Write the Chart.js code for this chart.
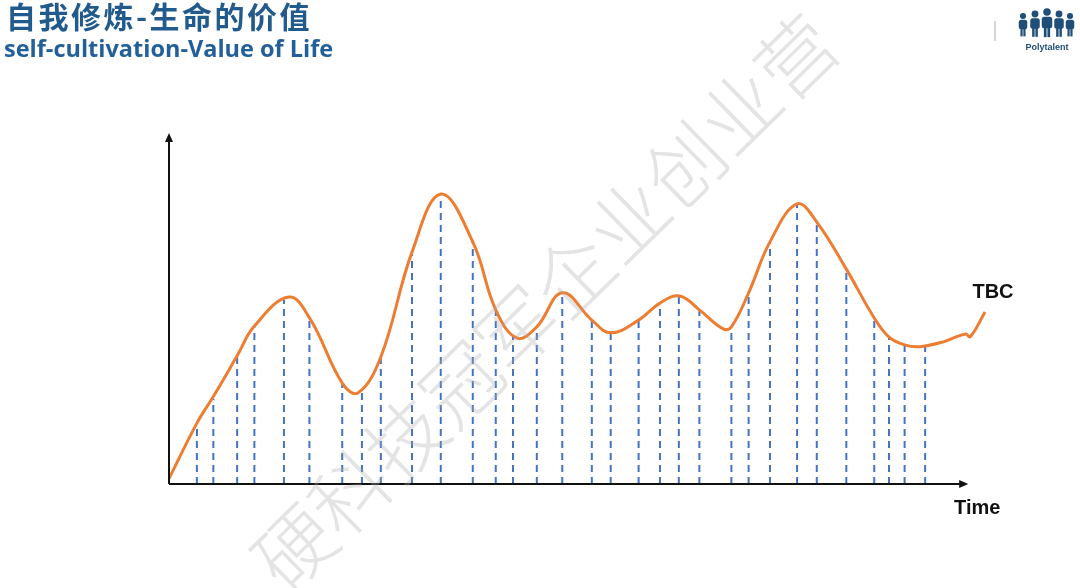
<!DOCTYPE html>
<html>
<head>
<meta charset="utf-8">
<script src="https://cdn.jsdelivr.net/npm/chart.js@4.4.0/dist/chart.umd.min.js"></script>
<style>
  html, body { margin: 0; padding: 0; background: #fff; }
  #wrap { position: relative; width: 1080px; height: 588px; overflow: hidden; }
  canvas { position: absolute; left: 0; top: 0; }
</style>
</head>
<body>
<div id="wrap">
  <canvas id="lifeChart" width="1080" height="588"></canvas>
</div>
<script>
// Orange "value of life" curve (time 0-100, value 0-100)
const curveX = [0, 3.4, 5.4, 8.3, 10.4, 14.6, 17.2, 21.1, 23.0, 25.8, 29.6, 33.1, 37.0, 39.8, 42.4,
  44.8, 47.9, 51.5, 53.8, 57.2, 59.8, 62.2, 64.6, 67.5, 68.5, 70.6, 73.2, 76.5, 78.9, 82.5,
  85.9, 87.7, 89.6, 91.5, 94.5, 97.0, 97.6, 99.4];
const curveY = [1.5, 17.2, 24.7, 36.2, 44.6, 52.8, 46.6, 28.5, 25.7, 35.9, 65.5, 81.9, 68.4, 49.2, 41.2,
  44.4, 54.0, 46.3, 42.7, 46.3, 51.1, 53.1, 49.2, 43.8, 44.4, 54.0, 68.4, 79.1, 74.0, 60.7,
  46.9, 41.5, 39.3, 38.8, 40.3, 42.4, 41.6, 48.6];

// Blue dashed stems (time, height)
const stemX = [3.4, 5.4, 8.3, 10.4, 14.0, 17.1, 21.1, 23.5, 25.8, 29.6, 33.1, 37.0, 39.8, 41.9, 44.8,
  47.9, 51.5, 53.8, 57.2, 59.8, 62.1, 64.6, 68.5, 70.6, 73.2, 76.5, 78.9, 82.5, 85.9, 87.7, 89.6, 92.1];
const stemY = [16.9, 24.0, 35.9, 44.4, 52.0, 46.6, 28.5, 25.7, 35.9, 65.5, 81.4, 68.4, 49.2, 41.8, 44.4,
  54.0, 46.3, 42.7, 46.3, 51.1, 52.8, 49.2, 44.4, 54.0, 68.4, 79.1, 74.0, 60.7, 46.9, 41.5, 39.3, 38.7];

const axisEndX = 97.1;
const axisEndY = 98.6;

const titleText = "自我修炼-生命的价值";
const subtitleText = "self-cultivation-Value of Life";
const watermarkText = "硬科技冠军企业创业营";

const datasets = [
  {
    data: curveX.map((x, i) => ({ x: x, y: curveY[i] })),
    borderColor: "#ED7D31",
    borderWidth: 3,
    pointRadius: 0,
    tension: 0.4,
    fill: false,
  },
];
stemX.forEach((x, i) => {
  datasets.push({
    data: [{ x: x, y: 0 }, { x: x, y: stemY[i] }],
    borderColor: "#4472C4",
    borderWidth: 2,
    borderDash: [7, 5],
    pointRadius: 0,
    fill: false,
  });
});

// axes with arrows, labels, title and decorations
const decorPlugin = {
  id: "decor",
  afterDatasetsDraw(chart) {
    const ctx = chart.ctx;
    const xs = chart.scales.x;
    const ys = chart.scales.y;
    const x0 = xs.getPixelForValue(0);
    const y0 = ys.getPixelForValue(0);
    const xEnd = xs.getPixelForValue(axisEndX);
    const yEnd = ys.getPixelForValue(axisEndY);

    ctx.save();
    ctx.strokeStyle = "#111";
    ctx.fillStyle = "#111";
    ctx.lineWidth = 2;
    ctx.beginPath();
    ctx.moveTo(x0, y0);
    ctx.lineTo(xEnd - 4, y0);
    ctx.moveTo(x0, y0);
    ctx.lineTo(x0, yEnd + 4);
    ctx.stroke();
    // arrow heads
    ctx.beginPath();
    ctx.moveTo(xEnd + 2, y0);
    ctx.lineTo(xEnd - 7, y0 - 4);
    ctx.lineTo(xEnd - 7, y0 + 4);
    ctx.closePath();
    ctx.fill();
    ctx.beginPath();
    ctx.moveTo(x0, yEnd - 2);
    ctx.lineTo(x0 - 4, yEnd + 7);
    ctx.lineTo(x0 + 4, yEnd + 7);
    ctx.closePath();
    ctx.fill();

    // axis / curve labels
    ctx.font = "bold 20px 'Liberation Sans', Arial, sans-serif";
    ctx.textAlign = "center";
    ctx.textBaseline = "middle";
    ctx.fillText("TBC", xs.getPixelForValue(100) + 3, ys.getPixelForValue(54));
    ctx.fillText("Time", xEnd + 11, y0 + 24);

    // title
    ctx.textAlign = "left";
    ctx.textBaseline = "alphabetic";
    ctx.fillStyle = "#215A8C";
    ctx.font = "bold 30px 'Noto Sans CJK SC', sans-serif";
    ctx.letterSpacing = "2.5px";
    ctx.fillText(titleText, 6, 28);
    ctx.letterSpacing = "0px";
    ctx.fillStyle = "#23609A";
    ctx.font = "bold 23.5px 'Open Sans', sans-serif";
    ctx.fillText(subtitleText, 4, 57);

    // logo
    ctx.strokeStyle = "#c8c8c8";
    ctx.lineWidth = 1.5;
    ctx.beginPath();
    ctx.moveTo(995, 21);
    ctx.lineTo(995, 41);
    ctx.stroke();
    ctx.fillStyle = "#1F4E79";
    const people = [[1023, 16, 0.85], [1035, 14, 0.95], [1047, 12, 1.05], [1059, 14, 0.95], [1070, 16, 0.85]];
    people.forEach(([px, py, s]) => {
      ctx.beginPath();
      ctx.arc(px, py, 3.6 * s, 0, Math.PI * 2);
      ctx.fill();
      ctx.beginPath();
      ctx.roundRect(px - 5 * s, py + 4.5 * s, 10 * s, 11 * s, 2.5);
      ctx.fill();
      ctx.fillRect(px - 3 * s, py + 14 * s, 2.6 * s, 10 * s);
      ctx.fillRect(px + 0.4 * s, py + 14 * s, 2.6 * s, 10 * s);
    });
    ctx.font = "bold 9px 'Liberation Sans', Arial, sans-serif";
    ctx.textAlign = "center";
    ctx.fillText("Polytalent", 1047, 50);

    // watermark
    ctx.translate(545, 302);
    ctx.rotate(-44.4 * Math.PI / 180);
    ctx.fillStyle = "rgba(170, 170, 170, 0.32)";
    ctx.font = "300 78px 'Noto Sans CJK SC', sans-serif";
    ctx.textAlign = "center";
    ctx.textBaseline = "middle";
    ctx.fillText(watermarkText, 0, 0);
    ctx.restore();
  },
};

new Chart(document.getElementById("lifeChart"), {
  type: "line",
  data: { datasets: datasets },
  options: {
    responsive: false,
    animation: false,
    events: [],
    layout: {
      padding: { left: 169, right: 90, top: 130, bottom: 104 },
    },
    plugins: {
      legend: { display: false },
      tooltip: { enabled: false },
    },
    scales: {
      x: { type: "linear", min: 0, max: 100, display: false },
      y: { type: "linear", min: 0, max: 100, display: false },
    },
  },
  plugins: [decorPlugin],
});
</script>
</body>
</html>
